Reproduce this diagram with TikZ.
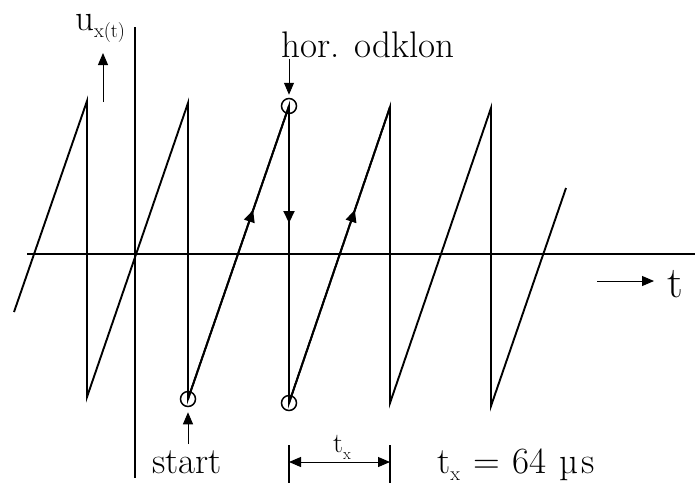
\documentclass[tikz,border=0pt]{standalone}
\usepackage{tikz}
\usetikzlibrary{arrows.meta, positioning, calc, decorations.markings}
\newcommand{\lowsub}[2][20]{\raisebox{-7pt}{\fontsize{#1}{#1}\selectfont #2}}

\begin{document}
\begin{tikzpicture}[x=1pt, y=-1pt,
    saw/.style={line width=1.9pt, line join=miter},
    axis/.style={line width=1.9pt},
    pointer/.style={line width=1pt, -{Triangle[length=12pt, width=10pt]}},
    midarrow/.style={postaction={decorate}, decoration={markings,
        mark=at position #1 with {\arrow{Triangle[length=12pt, width=11pt]}}}},
    ring/.style={circle, draw, line width=1.5pt, minimum size=15pt, inner sep=0pt},
    lbl/.style={font=\fontsize{37}{44}\selectfont, inner sep=0pt, anchor=base},
]
    \useasboundingbox (0,0) rectangle (695,483);

    % axes
    \coordinate (xleft) at (27,254);
    \coordinate (xright) at (695,254);
    \coordinate (ytop) at (135,27);
    \coordinate (ybot) at (135,478);
    \draw[axis] (xleft) -- (xright);
    \draw[axis] (ytop) -- (ybot);

    % sawtooth corners
    \coordinate (s0) at (14,312);
    \coordinate (t1) at (87,101);   \coordinate (b1) at (87,397);
    \coordinate (t2) at (188,103);  \coordinate (b2) at (188,399);
    \coordinate (t3) at (289,106);  \coordinate (b3) at (289,403);
    \coordinate (t4) at (390,107);  \coordinate (b4) at (390,403);
    \coordinate (t5) at (491,108);  \coordinate (b5) at (491,406);
    \coordinate (s6) at (566,188);

    \draw[saw] (s0) -- (t1) -- (b1) -- (t2) -- (b2) -- (t3) -- (b3)
        -- (t4) -- (b4) -- (t5) -- (b5) -- (s6);
    \draw[saw, midarrow=0.645] (b2) -- (t3);
    \draw[saw, midarrow=0.652] (b3) -- (t4);
    \draw[saw, midarrow=0.394] (t3) -- (b3);

    \node[ring] (ringstart) at (b2) {};
    \node[ring] (ringtop) at (t3) {};
    \node[ring] (ringbot) at (b3) {};

    % labels
    \node[lbl, anchor=base west] (ulbl) at (75,30) {u\lowsub{x(t)}};
    \coordinate (ufoot) at (103,102);
    \coordinate (utip) at (103,53);
    \draw[pointer] (ufoot) -- (utip);

    \node[lbl] (hor) at (368,57) {hor. odklon};
    \draw[pointer, shorten <=1pt, shorten >=3pt] (hor.south -| ringtop) -- (ringtop);

    \node[lbl] (start) at (187,473) {start};
    \draw[pointer, shorten <=6pt, shorten >=5pt] (start.north -| ringstart) -- (ringstart);

    \node[lbl, font=\fontsize{44}{50}\selectfont, anchor=base west] (tlbl) at (667,297) {t};
    \coordinate (tfrom) at (597,281);
    \draw[pointer, shorten >=13pt] (tfrom) -- (tfrom -| tlbl.west);

    % period t_x
    \coordinate (dimL) at (289,445);
    \coordinate (dimR) at (390,445);
    \draw[line width=1.5pt] (dimL) -- ++(0,38);
    \draw[line width=1.5pt] (dimR) -- ++(0,38);
    \draw[line width=1pt, {Triangle[length=12pt, width=10pt]}-{Triangle[length=12pt, width=10pt]}]
        ($(dimL)+(0,17)$) -- ($(dimR)+(0,17)$);
    \node[lbl, font=\fontsize{28}{32}\selectfont] (txlbl) at (342,452) {t\lowsub[16]{x}};

    \node[lbl, anchor=base west] (period) at (437,473)
        {t\lowsub{x}\hspace{13pt}=\hspace{13pt}64\hspace{13pt}µ\kern3pt s};
\end{tikzpicture}
\end{document}
